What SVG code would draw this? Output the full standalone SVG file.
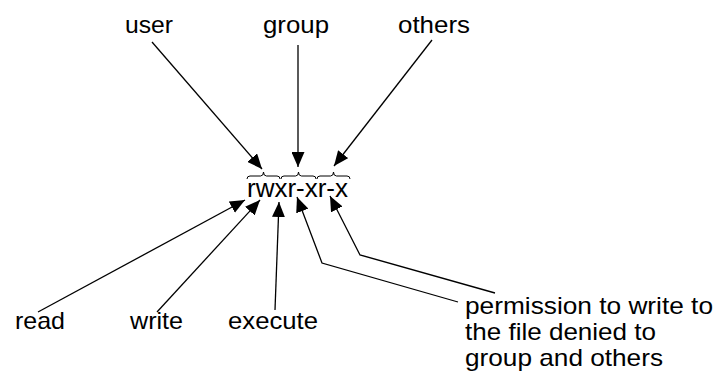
<svg xmlns="http://www.w3.org/2000/svg" width="719" height="371" viewBox="0 0 719 371">
  <style>
    text { font-family: "Liberation Sans", Arial, sans-serif; font-size: 24px; fill: #000; }
    .conn { fill: none; stroke: #000; stroke-width: 1.3; }
    .brace { fill: none; stroke: #000; stroke-width: 1; }
  </style>
  <defs>
    <marker id="head" markerUnits="userSpaceOnUse" markerWidth="16" markerHeight="13" refX="15" refY="6.5" orient="auto">
      <path d="M0,0 L15,6.5 L0,13 z" fill="#000"/>
    </marker>
  </defs>
  <rect width="719" height="371" fill="#fff"/>

  <!-- permission string with the three class braces above it -->
  <g id="perm-string">
    <text x="247" y="196.5" style="font-size:25px" textLength="101" lengthAdjust="spacingAndGlyphs">rwxr-xr-x</text>
  </g>
  <g id="braces">
    <path class="brace" d="M247,179 q0,-3 3,-3 H260.5 q3,0 3,-4 q0,4 3,4 H277 q3,0 3,3"/>
    <path class="brace" d="M281,179 q0,-3 3,-3 H295.5 q3,0 3,-4 q0,4 3,4 H313 q3,0 3,3"/>
    <path class="brace" d="M317,179 q0,-3 3,-3 H330.5 q3,0 3,-4 q0,4 3,4 H347 q3,0 3,3"/>
  </g>

  <!-- class labels -->
  <g id="user"><text x="125" y="33" textLength="48" lengthAdjust="spacingAndGlyphs">user</text></g>
  <g id="group"><text x="263" y="33" textLength="66" lengthAdjust="spacingAndGlyphs">group</text></g>
  <g id="others"><text x="398" y="33" textLength="72" lengthAdjust="spacingAndGlyphs">others</text></g>

  <!-- bit labels -->
  <g id="read"><text x="15" y="329" textLength="50" lengthAdjust="spacingAndGlyphs">read</text></g>
  <g id="write"><text x="130" y="329" textLength="53" lengthAdjust="spacingAndGlyphs">write</text></g>
  <g id="execute"><text x="228" y="329" textLength="90" lengthAdjust="spacingAndGlyphs">execute</text></g>
  <g id="note">
    <text x="465" y="313.5" textLength="248" lengthAdjust="spacingAndGlyphs">permission to write to</text>
    <text x="465" y="339.5" textLength="191" lengthAdjust="spacingAndGlyphs">the file denied to</text>
    <text x="465" y="365.5" textLength="198" lengthAdjust="spacingAndGlyphs">group and others</text>
  </g>

  <g id="connectors">
    <line class="conn" x1="152" y1="42" x2="262" y2="169" marker-end="url(#head)"/>
    <line class="conn" x1="298" y1="45" x2="298" y2="167" marker-end="url(#head)"/>
    <line class="conn" x1="432" y1="40" x2="334" y2="166" marker-end="url(#head)"/>
    <line class="conn" x1="38" y1="312" x2="245" y2="200" marker-end="url(#head)"/>
    <line class="conn" x1="157" y1="312" x2="260" y2="200" marker-end="url(#head)"/>
    <line class="conn" x1="275" y1="310" x2="279" y2="202" marker-end="url(#head)"/>
    <polyline class="conn" points="458,302 322,263 297,197" marker-end="url(#head)"/>
    <polyline class="conn" points="495,293 360,255 330,196" marker-end="url(#head)"/>
  </g>
</svg>
